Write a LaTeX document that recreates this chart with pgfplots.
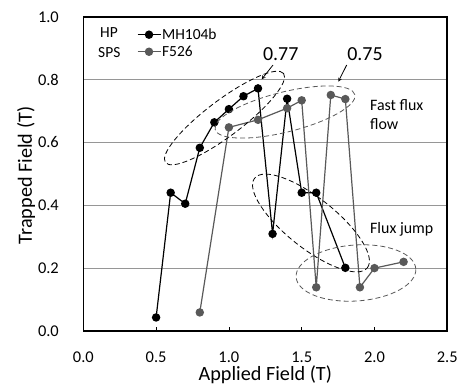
\documentclass[border=0pt]{standalone}
\usepackage{fontspec}
\setmainfont{Carlito}
\usepackage{pgfplots}
\pgfplotsset{compat=1.18}
\definecolor{serA}{RGB}{0,0,0}
\definecolor{serB}{RGB}{89,89,89}
\definecolor{gridc}{RGB}{150,150,150}
\begin{document}
\begin{tikzpicture}
\path[use as bounding box, draw=white, line width=0.1bp] (-83.3bp,-56bp) rectangle (373.7bp,331bp);
\begin{axis}[
  scale only axis, width=364bp, height=314.3bp,
  xmin=0, xmax=2.5, ymin=0, ymax=1.0,
  xtick={0,0.5,1.0,1.5,2.0,2.5},
  ytick={0,0.2,0.4,0.6,0.8,1.0},
  /pgf/number format/.cd, fixed, fixed zerofill, precision=1, assume math mode=true,
  /pgfplots/.cd,
  ymajorgrids, grid style={gridc, line width=1bp},
  axis line style={black, line width=1.2bp},
  tick align=inside, xtick pos=bottom, ytick pos=left,
  ytick style={draw=none},
  xtick style={black, line width=0.8bp},
  major tick length=4bp,
  ticklabel style={font=\fontsize{16.5}{18}\selectfont},
  yticklabel style={xshift=-21bp},
  xticklabel style={yshift=-17bp},
  xlabel={Applied Field (T)},
  ylabel={Trapped Field (T)},
  label style={font=\fontsize{20.3}{22}\selectfont},
  xlabel style={at={(rel axis cs:0.5,0)}, anchor=center, yshift=-44bp},
  ylabel style={at={(rel axis cs:-0.157,0.495)}, anchor=center},
  legend style={draw=none, fill=none, inner sep=0pt, anchor=west,
    at={(rel axis cs:0.1467,0.916)}, row sep=3bp,
    font=\fontsize{15.5}{17}\selectfont, nodes={inner sep=1bp}},
  legend cell align=left,
  legend image code/.code={\draw[#1,mark repeat=2,mark phase=2] plot coordinates {(0bp,0bp) (11.5bp,0bp) (23bp,0bp)};},
]
\addplot[serA, line width=1.2bp, mark=*, mark size=3.6bp, mark options={solid, fill=serA, draw=serA}] coordinates {
 (0.5,0.043) (0.6,0.44) (0.7,0.405) (0.8,0.583) (0.9,0.664) (1.0,0.706) (1.1,0.747) (1.2,0.772)
 (1.3,0.309) (1.4,0.739) (1.5,0.44) (1.6,0.44) (1.8,0.201)};
\addlegendentry{MH104b}
\addplot[serB, line width=1.2bp, mark=*, mark size=3.6bp, mark options={solid, fill=serB, draw=serB}] coordinates {
 (0.8,0.059) (1.0,0.648) (1.2,0.672) (1.4,0.709) (1.5,0.734) (1.6,0.139) (1.7,0.751) (1.8,0.738)
 (1.9,0.139) (2.0,0.2) (2.2,0.22)};
\addlegendentry{F526}
\end{axis}
\draw[black, line width=1.6bp] (0bp,0bp) rectangle (364bp,314.3bp);
\begin{scope}[line width=0.8bp, dash pattern=on 5bp off 3bp]
\draw[black] (141.2bp,213bp) ellipse[x radius=74bp, y radius=18bp, rotate=37];
\draw[serB] (201.7bp,219bp) ellipse[x radius=72bp, y radius=20bp, rotate=14];
\draw[black] (227.7bp,108bp) ellipse[x radius=72bp, y radius=25bp, rotate=-38.5];
\draw[serB] (272.7bp,58bp) ellipse[x radius=60bp, y radius=28bp, rotate=4];
\end{scope}
\node[font=\fontsize{20}{22}\selectfont] at (197.4bp,277bp) {0.77};
\node[font=\fontsize{20}{22}\selectfont] at (281.7bp,277bp) {0.75};
\draw[-stealth, line width=0.8bp] (189.7bp,266bp) -- (178.4bp,251.7bp);
\draw[-stealth, line width=0.8bp] (263.4bp,266bp) -- (255bp,249.3bp);
\node[font=\fontsize{15.5}{17}\selectfont, anchor=west, inner sep=0pt] at (16.7bp,298bp) {HP};
\node[font=\fontsize{15.5}{17}\selectfont, anchor=west, inner sep=0pt] at (14.7bp,278bp) {SPS};
\node[font=\fontsize{16}{19}\selectfont, anchor=north west, align=left, inner sep=0pt] at (286.7bp,232bp) {Fast flux\\flow};
\node[font=\fontsize{16}{18}\selectfont, anchor=west, inner sep=0pt] at (286.7bp,101.7bp) {Flux jump};
\end{tikzpicture}
\end{document}
